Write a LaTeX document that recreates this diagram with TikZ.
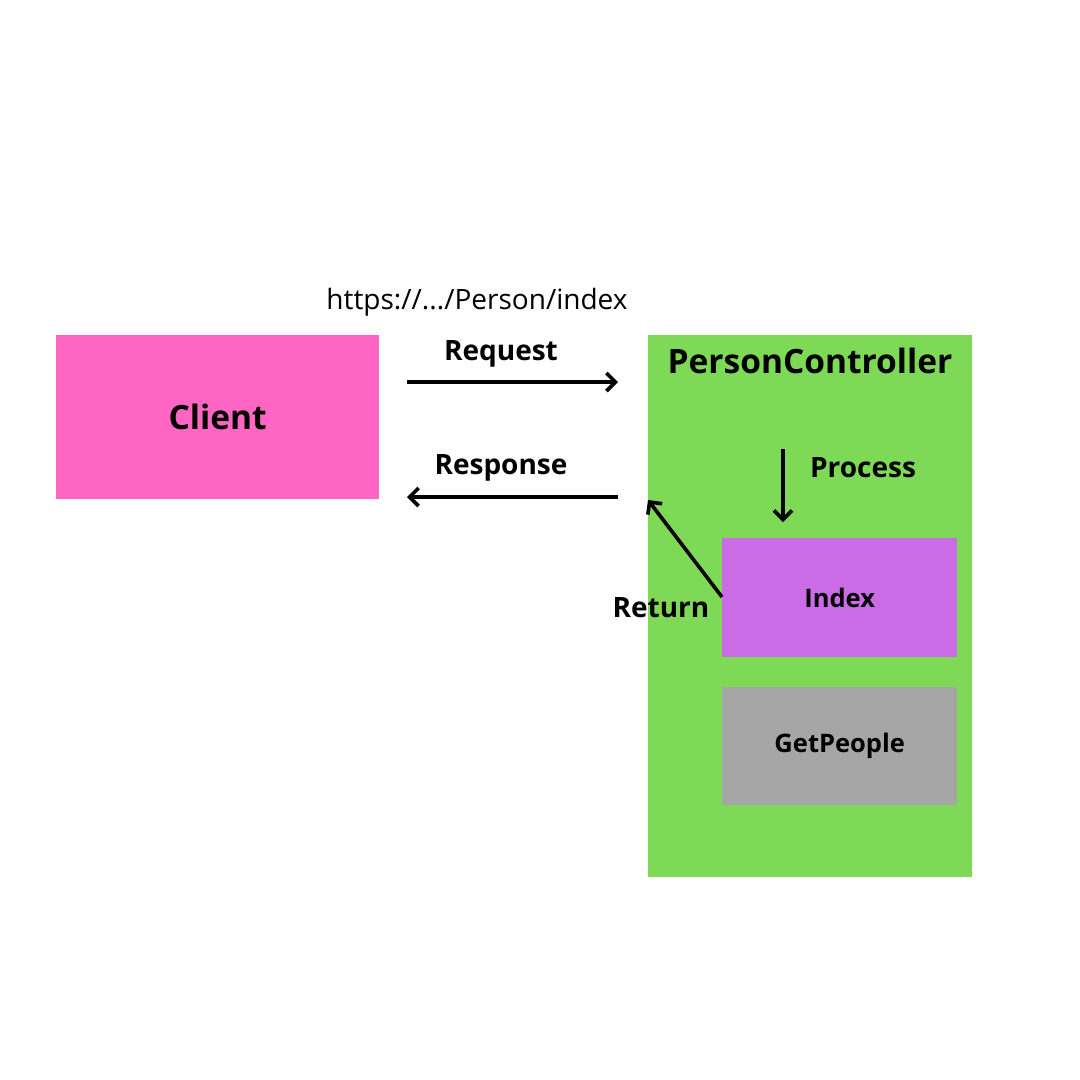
\documentclass[tikz,border=0pt]{standalone}
\usepackage{fontspec}
\setmainfont{Open Sans}
\usetikzlibrary{arrows.meta}
\definecolor{clientpink}{HTML}{FF66C4}
\definecolor{ctrlgreen}{HTML}{7ED957}
\definecolor{idxpurple}{HTML}{CB6CE6}
\definecolor{gpgray}{HTML}{A6A6A6}
\tikzset{
  box/.style={draw=none, inner sep=0pt, anchor=north west},
  conn/.style={line width=3.6pt, -{Straight Barb[length=9pt,width=18pt,line width=3.6pt]}},
  lbl/.style={inner sep=0pt, font=\bfseries\fontsize{28}{33}\selectfont},
  small/.style={inner sep=0pt, font=\bfseries\fontsize{25.5}{30}\selectfont},
  big/.style={inner sep=0pt, font=\bfseries\fontsize{33.5}{40}\selectfont},
}
\begin{document}
\begin{tikzpicture}[x=1pt,y=-1pt]
\useasboundingbox[fill=white] (0,0) rectangle (1080,1080);
% boxes
\node[box, fill=clientpink, minimum width=323pt, minimum height=164pt] (client) at (56,335) {};
\node[big] at (client.center) {Client};
\node[box, fill=ctrlgreen, minimum width=324pt, minimum height=542pt] (ctrl) at (648,335) {};
\node[big] (ctrllbl) at (810,361) {PersonController};
\node[box, fill=idxpurple, minimum width=235pt, minimum height=119pt] (index) at (722,538) {};
\node[small] at (index.center) {Index};
\node[box, fill=gpgray, minimum width=235pt, minimum height=118pt] (getpeople) at (722,687) {};
\node[small] at (getpeople.center) {GetPeople};
% texts
\node[inner sep=0pt, font=\fontsize{28}{33}\selectfont] (url) at (477,302) {https://.../Person/index};
\node[lbl] (reqlbl) at (501,354) {Request};
\node[lbl] (reslbl) at (501,468) {Response};
\node[lbl] (proclbl) at (863,468) {Process};
\node[lbl] (retlbl) at (661,608) {Return};
% connector end points
\coordinate (reqS) at (407,382);
\coordinate (reqE) at (618,382);
\coordinate (resS) at (618,497);
\coordinate (resE) at (407,497);
\coordinate (procS) at (783,449);
\coordinate (procE) at (783,522);
\coordinate (retS) at (722,597);
\coordinate (retE) at (648,500);
\draw[conn] (reqS) -- (reqE);
\draw[conn] (resS) -- (resE);
\draw[conn] (procS) -- (procE);
\draw[conn] (retS) -- (retE);
\end{tikzpicture}
\end{document}
